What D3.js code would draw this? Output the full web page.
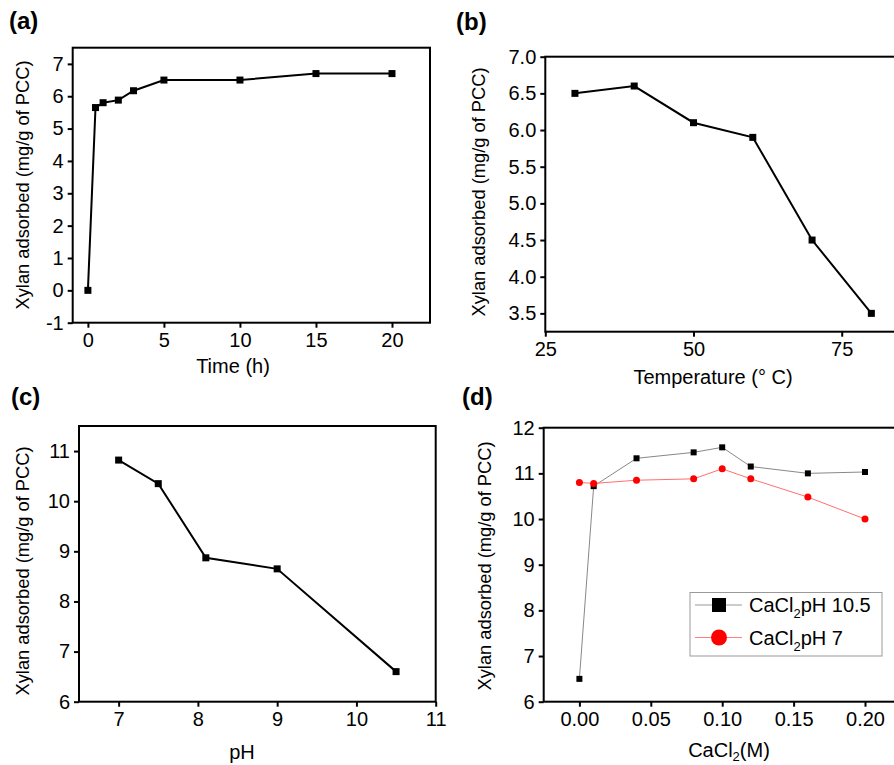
<!DOCTYPE html>
<html>
<head>
<meta charset="utf-8">
<script src="https://cdn.jsdelivr.net/npm/d3@7/dist/d3.min.js"></script>
<style>
  body { margin: 0; background: #fff; }
  svg { display: block; font-family: "Liberation Sans", Arial, sans-serif; }
</style>
</head>
<body>
<svg id="chart" width="894" height="765"></svg>
<script>
// (a) time course
const timeH = [0, 0.5, 1, 2, 3, 5, 10, 15, 20];
const xylanTime = [0, 5.65, 5.8, 5.88, 6.17, 6.5, 6.5, 6.7, 6.7];
const timeTicks = [0, 5, 10, 15, 20];
const timeYTicks = [-1, 0, 1, 2, 3, 4, 5, 6, 7];

// (b) temperature
const tempC = [30, 40, 50, 60, 70, 80];
const xylanTemp = [6.5, 6.6, 6.1, 5.9, 4.5, 3.5];
const tempTicks = [25, 50, 75];
const tempYTicks = [3.5, 4.0, 4.5, 5.0, 5.5, 6.0, 6.5, 7.0];

// (c) pH
const phVals = [7, 7.5, 8.1, 9, 10.5];
const xylanPH = [10.82, 10.35, 8.87, 8.65, 6.6];
const phTicks = [7, 8, 9, 10, 11];
const phYTicks = [6, 7, 8, 9, 10, 11];

// (d) CaCl2
const cacl2 = [0, 0.01, 0.04, 0.08, 0.10, 0.12, 0.16, 0.20];
const xylanPH105 = [6.5, 10.72, 11.33, 11.46, 11.57, 11.15, 11.0, 11.03];
const xylanPH7 = [10.8, 10.78, 10.85, 10.88, 11.1, 10.88, 10.48, 10.0];
const caTicks = [0, 0.05, 0.10, 0.15, 0.20];
const caYTicks = [6, 7, 8, 9, 10, 11, 12];

const yTitle = 'Xylan adsorbed (mg/g of PCC)';
const svg = d3.select('#chart');
const intFmt = d => String(d); // hyphen minus like the original, not d3's unicode minus

const drawPanel = (p) => {
  const g = svg.append('g');
  const x = d3.scaleLinear().domain(p.xDomain).range([p.left, p.right]);
  const y = d3.scaleLinear().domain(p.yDomain).range([p.bottom, p.top]);

  g.append('rect')
    .attr('x', p.left).attr('y', p.top)
    .attr('width', p.right - p.left).attr('height', p.bottom - p.top)
    .attr('fill', 'none').attr('stroke', '#000').attr('stroke-width', 2);

  const ax = g.append('g').attr('transform', `translate(0,${p.bottom})`)
    .call(d3.axisBottom(x).tickValues(p.xTicks).tickFormat(p.xFmt).tickSize(5).tickSizeOuter(0).tickPadding(5));
  const ay = g.append('g').attr('transform', `translate(${p.left},0)`)
    .call(d3.axisLeft(y).tickValues(p.yTicks).tickFormat(p.yFmt).tickSize(5).tickSizeOuter(0).tickPadding(4));
  [ax, ay].forEach(a => {
    a.select('.domain').remove();
    a.selectAll('line').attr('stroke-width', 2);
    a.selectAll('text').attr('font-size', 20).attr('fill', '#000')
      .attr('font-family', '"Liberation Sans", Arial, sans-serif');
  });

  g.append('text')
    .attr('transform', `translate(${p.yTitleX},${p.yTitleY}) rotate(-90)`)
    .attr('text-anchor', 'middle').attr('dy', '0.35em')
    .attr('font-size', 18.3).text(p.yTitle);

  const xt = g.append('text')
    .attr('x', p.xTitleX).attr('y', p.xTitleY)
    .attr('text-anchor', 'middle').attr('font-size', 20);
  p.xTitle(xt);

  svg.append('text').attr('x', p.labelX).attr('y', p.labelY)
    .attr('font-size', 24).attr('font-weight', 'bold').text(p.label);

  return { g, x, y };
};

const drawSeries = (pan, xs, ys, o) => {
  const pts = xs.map((v, i) => [v, ys[i]]);
  pan.g.append('path')
    .attr('d', d3.line().x(d => pan.x(d[0])).y(d => pan.y(d[1]))(pts))
    .attr('fill', 'none').attr('stroke', o.line).attr('stroke-width', o.lw);
  if (o.shape === 'circle') {
    pan.g.selectAll(null).data(pts).enter().append('circle')
      .attr('cx', d => pan.x(d[0])).attr('cy', d => pan.y(d[1]))
      .attr('r', o.size / 2).attr('fill', o.fill);
  } else {
    pan.g.selectAll(null).data(pts).enter().append('rect')
      .attr('x', d => pan.x(d[0]) - o.size / 2).attr('y', d => pan.y(d[1]) - o.size / 2)
      .attr('width', o.size).attr('height', o.size).attr('fill', o.fill);
  }
};

const plain = t => sel => sel.text(t);

// (a)
const pa = drawPanel({
  left: 72.7, right: 430, top: 47.7, bottom: 322.7,
  xDomain: [-1, 22.5], yDomain: [-1, 7.5],
  xTicks: timeTicks, yTicks: timeYTicks, xFmt: intFmt, yFmt: intFmt,
  yTitle: 'Xylan adsorbed (mg/g of  PCC)', yTitleX: 23, yTitleY: 185,
  xTitle: plain('Time (h)'), xTitleX: 233, xTitleY: 373,
  label: '(a)', labelX: 9, labelY: 29
});
drawSeries(pa, timeH, xylanTime, { line: '#000', lw: 2, fill: '#000', size: 7 });

// (b)
const pb = drawPanel({
  left: 545.3, right: 901, top: 56.7, bottom: 331.7,
  xDomain: [25, 85], yDomain: [3.25, 7.0],
  xTicks: tempTicks, yTicks: tempYTicks, xFmt: intFmt, yFmt: d3.format('.1f'),
  yTitle: yTitle, yTitleX: 479, yTitleY: 192,
  xTitle: plain('Temperature (° C)'), xTitleX: 713, xTitleY: 384,
  label: '(b)', labelX: 456, labelY: 30
});
drawSeries(pb, tempC, xylanTemp, { line: '#000', lw: 2, fill: '#000', size: 7 });

// (c)
const pc = drawPanel({
  left: 79, right: 435.7, top: 426, bottom: 701.7,
  xDomain: [6.5, 11], yDomain: [6, 11.5],
  xTicks: phTicks, yTicks: phYTicks, xFmt: intFmt, yFmt: intFmt,
  yTitle: yTitle, yTitleX: 23, yTitleY: 571,
  xTitle: plain('pH'), xTitleX: 242, xTitleY: 759,
  label: '(c)', labelX: 11, labelY: 405
});
drawSeries(pc, phVals, xylanPH, { line: '#000', lw: 2, fill: '#000', size: 7 });

// (d)
const subText = (sel, a, b, sub) => {
  sel.append('tspan').text(a);
  sel.append('tspan').attr('font-size', 13).attr('dy', sub).text('2');
  sel.append('tspan').attr('dy', -sub).text(b);
};
const pd = drawPanel({
  left: 543.7, right: 900.7, top: 427.7, bottom: 701.7,
  xDomain: [-0.025, 0.225], yDomain: [6, 12],
  xTicks: caTicks, yTicks: caYTicks, xFmt: d3.format('.2f'), yFmt: intFmt,
  yTitle: 'Xylan adsorbed (mg/g of  PCC)', yTitleX: 485, yTitleY: 566,
  xTitle: sel => subText(sel, 'CaCl', '(M)', 4), xTitleX: 729, xTitleY: 757,
  label: '(d)', labelX: 462, labelY: 405
});
drawSeries(pd, cacl2, xylanPH105, { line: '#888', lw: 1, fill: '#000', size: 6 });
drawSeries(pd, cacl2, xylanPH7, { line: '#ff7070', lw: 1, fill: '#ff0000', size: 7, shape: 'circle' });

// legend
const legend = [
  { name: 'pH 10.5', line: '#999', fill: '#000', shape: 'rect' },
  { name: 'pH 7', line: '#ff8080', fill: '#ff0000', shape: 'circle' }
];
const lg = svg.append('g');
lg.append('rect').attr('x', 690).attr('y', 592.5).attr('width', 192).attr('height', 63.5)
  .attr('fill', '#fff').attr('stroke', '#999').attr('stroke-width', 1);
legend.forEach((d, i) => {
  const cy = 605 + i * 32.5;
  lg.append('line').attr('x1', 695).attr('x2', 742).attr('y1', cy).attr('y2', cy)
    .attr('stroke', d.line).attr('stroke-width', 1);
  if (d.shape === 'circle') {
    lg.append('circle').attr('cx', 719).attr('cy', cy).attr('r', 8).attr('fill', d.fill);
  } else {
    lg.append('rect').attr('x', 712).attr('y', cy - 7).attr('width', 14).attr('height', 14).attr('fill', d.fill);
  }
  const t = lg.append('text').attr('x', 749).attr('y', cy + 7).attr('font-size', 20);
  subText(t, 'CaCl', d.name, 6);
});
</script>
</body>
</html>
